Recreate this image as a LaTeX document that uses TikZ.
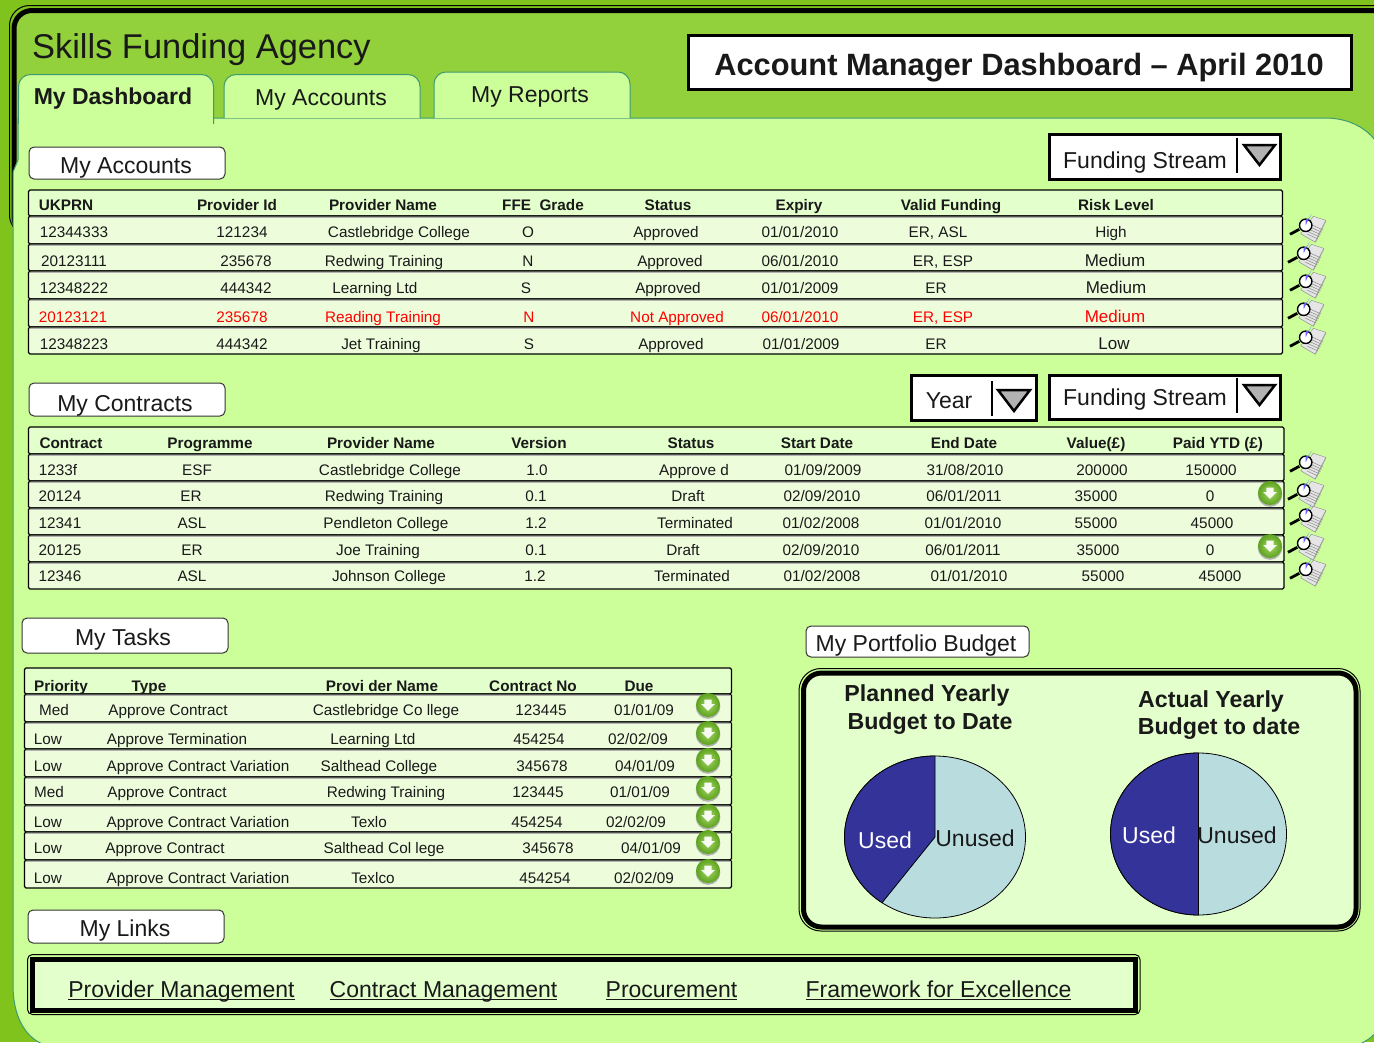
\documentclass[tikz,border=0pt]{standalone}
\usepackage{fontspec}
\setmainfont{Liberation Sans}
\definecolor{bgdark}{HTML}{7FC31C}
\definecolor{headgreen}{HTML}{92D13C}
\definecolor{panel}{HTML}{CCFF99}
\definecolor{edgeteal}{HTML}{3E9A70}
\definecolor{headrow}{HTML}{E3FFCC}
\definecolor{bodyrow}{HTML}{EDFDDC}
\definecolor{pieblue}{HTML}{333399}
\definecolor{pielight}{HTML}{B9DCDF}
\definecolor{arrowgray}{HTML}{B2B2B2}
\definecolor{redtxt}{HTML}{FF0000}
\definecolor{btnin}{HTML}{A6D765}
\definecolor{btnout}{HTML}{5CA21E}
\newcounter{tnum}
\newcommand{\fs}[1]{\fontsize{#1}{#1}\selectfont}
% x, y (baseline), text
\newcommand{\tx}[4][]{\stepcounter{tnum}\node[cell,#1] (t\arabic{tnum}) at (#2,#3) {#4};}
\newsavebox{\ulbox}
\newcommand{\ulink}[1]{\sbox{\ulbox}{#1}\rlap{\rule[-3pt]{\wd\ulbox}{1.4pt}}\usebox{\ulbox}}
\newcommand{\rowcells}[3][]{\foreach \px/\ptxt in {#3} {\tx[#1]{\px}{#2}{\ptxt}}}
\tikzset{
  cell/.style={font=\fs{15.3},anchor=base,inner sep=0pt,text=black!90},
  headcell/.style={cell,font=\fs{15.3}\bfseries},
  redcell/.style={cell,text=redtxt},
  big/.style={cell,font=\fs{23}},
  bigbold/.style={cell,font=\fs{23.2}\bfseries},
  rowbox/.style={draw=black,line width=1.2pt,fill=bodyrow,rounded corners=1.5pt},
  headbox/.style={draw=black,line width=1.2pt,fill=headrow,rounded corners=1.5pt},
  labelbox/.style={draw=black!80,line width=1pt,fill=white,rounded corners=5pt},
  dropbox/.style={draw=black,line width=3pt,fill=white},
  tabshape/.style={draw=edgeteal,line width=1pt,fill=panel},
  thinframe/.style={draw=black,line width=1pt,fill=none},
  thickframe/.style={draw=black,line width=5pt,fill=headrow},
  docicon/.pic={
    \fill[black!35] (6.9,-12) -- (19.3,-8) -- (8.6,13.6) -- (-5.7,5.3) -- cycle;
    \fill[black!10,draw=black!45,line width=.4pt] (6.3,-12.7) -- (18.7,-8.7) -- (8,13) -- (-6.3,4.7) -- cycle;
    \foreach \k in {0,1,2,3,4}{\draw[black!45,line width=.5pt] ($(5,-4)!{\k*0.25}!(0,5)$) -- ++(11,5);}
    \draw[black,line width=2.8pt] (-17,5.3) -- (-7.7,0.3);
    \fill[white,draw=black,line width=1.4pt] (-1.3,-3.7) circle (6.2);
    \fill[blue!60!white] (-1.3,-3.7) -- (-1.3,-9.3) arc[start angle=90,end angle=0,radius=5.6] -- cycle;
  },
  greenbtn/.pic={
    \fill[black!30] (0,1.5) circle (12.3);
    \shade[inner color=btnin,outer color=btnout,draw=none] (0,0) circle (12);
    \fill[white,opacity=.92] (-3.6,-5.5) -- (3.6,-5.5) -- (3.6,-1) -- (7,-1) -- (0,5.8) -- (-7,-1) -- (-3.6,-1) -- cycle;
  }
}
\usetikzlibrary{calc}
\begin{document}
\begin{tikzpicture}[x=1pt,y=-1pt]
\useasboundingbox (0,0) rectangle (1374,1042);
\fill[bgdark] (0,0) rectangle (1374,1042);
% header frame
\draw[thinframe] (9.5,235) [rounded corners=20pt] -- (9.5,5.5) -- (1400,5.5) -- (1400,235) -- cycle;
\draw[draw=black,line width=5pt,fill=headgreen,rounded corners=18pt] (14,235) -- (14,10.5) -- (1400,10.5) -- (1400,235) -- cycle;
% panel
\path[clip] (0,0) rectangle (1374,1042);
\draw[tabshape] (18,118) -- (18,160) -- (13,172) -- (13,985) .. controls (13,1022) and (30,1048) .. (62,1048) -- (1340,1048) .. controls (1365,1048) and (1385,1030) .. (1385,1010) -- (1385,170) .. controls (1385,140) and (1360,118) .. (1325,118) -- cycle;
% tabs
\draw[tabshape] (224,118) -- (224,90) [rounded corners=12pt] -- (224,74.5) -- (420,74.5) -- (420,118);
\draw[tabshape] (434,118) -- (434,88) [rounded corners=12pt] -- (434,72) -- (630,72) -- (630,118);
\fill[panel] (19,117) rectangle (213,125);
\draw[tabshape] (18.5,124) [rounded corners=12pt] -- (18.5,74.5) -- (213.5,74.5) [sharp corners] -- (213.5,124);
\fill[panel] (19.2,100) rectangle (212.8,125);
\tx[font=\fs{34.4},anchor=base west]{32}{58}{Skills Funding Agency}
\tx[font=\fs{23}\bfseries]{113}{104}{My Dashboard}
\tx[font=\fs{23}]{321}{105}{My Accounts}
\tx[font=\fs{23}]{530}{102}{My Reports}
% title
\node[draw=black,line width=3pt,fill=white,minimum width=663pt,minimum height=54pt,inner sep=0pt] (titlebox) at (1019.5,62) {};
\tx[font=\fs{30.8}\bfseries]{1019}{75}{Account Manager Dashboard – April 2010}
% section labels
\node[labelbox,minimum width=196pt,minimum height=32pt,inner sep=0pt] (lab1) at (127,163) {};
\tx[big]{126}{173}{My Accounts}
\node[labelbox,minimum width=196pt,minimum height=33pt,inner sep=0pt] (lab2) at (127,399.5) {};
\tx[big]{125}{411}{My Contracts}
\node[labelbox,minimum width=206pt,minimum height=35pt,inner sep=0pt] (lab3) at (125,635.5) {};
\tx[big]{123}{645}{My Tasks}
\node[labelbox,minimum width=223pt,minimum height=31pt,inner sep=0pt] (lab4) at (917.5,641.5) {};
\tx[big]{916}{651}{My Portfolio Budget}
\node[labelbox,minimum width=196pt,minimum height=33pt,inner sep=0pt] (lab5) at (126,926.5) {};
\tx[big]{125}{936}{My Links}
% dropdowns
\node[dropbox,minimum width=231pt,minimum height=45pt,inner sep=0pt] (dd1) at (1165,157) {};
\tx[big]{1145}{168}{Funding Stream}
\draw[black,line width=2.5pt] (1237,138) -- (1237,173);
\draw[line width=2.5pt,fill=arrowgray] (1244,145) -- (1275,145) -- (1259.5,165) -- cycle;
\node[dropbox,minimum width=231pt,minimum height=44pt,inner sep=0pt] (dd2) at (1165,397.5) {};
\tx[big]{1145}{405}{Funding Stream}
\draw[black,line width=2.5pt] (1237,378) -- (1237,413);
\draw[line width=2.5pt,fill=arrowgray] (1244,385) -- (1275,385) -- (1259.5,405) -- cycle;
\node[dropbox,minimum width=125pt,minimum height=45pt,inner sep=0pt] (dd3) at (974,397.5) {};
\tx[big]{949}{408}{Year}
\draw[black,line width=2.5pt] (992,381) -- (992,416);
\draw[line width=2.5pt,fill=arrowgray] (998,390) -- (1030,390) -- (1014,411) -- cycle;
% accounts table
\draw[headbox] (28.5,190) rectangle (1282.5,216);
\foreach \a/\b in {216/244,244/271,271/299,299/327,327/354}{
  \draw[rowbox] (28.5,\a) rectangle (1282.5,\b);
  \draw[black!30,line width=1.2pt] (29.5,\a+1.6) -- (1281.5,\a+1.6);
}
\rowcells[headcell]{210}{66/UKPRN,237/Provider Id,383/Provider Name,543/FFE\ \ Grade,668/Status,799/Expiry,951/Valid Funding,1116/Risk Level}
\rowcells{237}{74/12344333,242/121234,399/Castlebridge College,528/O,666/Approved,800/01\slash 01\slash 2010,938/{ER, ASL},1111/High}
\rowcells{266}{74/20123111,246/235678,384/Redwing Training,528/N,670/Approved,800/06\slash 01\slash 2010,943/{ER, ESP}}
\rowcells{293}{74/12348222,246/444342,375/Learning Ltd,526/S,668/Approved,800/01\slash 01\slash 2009,936/ER}
\rowcells[redcell]{322}{73/20123121,242/235678,383/Reading Training,529/N,677/Not Approved,800/06\slash 01\slash 2010,943/{ER, ESP}}
\rowcells{349}{74/12348223,242/444342,381/Jet Training,529/S,671/Approved,801/01\slash 01\slash 2009,936/ER}
\tx[font=\fs{17}]{1115}{266}{Medium}
\tx[font=\fs{17}]{1116}{293}{Medium}
\tx[redcell,font=\fs{17}]{1115}{322}{Medium}
\tx[font=\fs{17}]{1114}{349}{Low}
% contracts table
\draw[headbox] (28.5,427) rectangle (1284,454);
\foreach \a/\b in {454/481,481/508,508/535,535/562,562/589}{
  \draw[rowbox] (28.5,\a) rectangle (1284,\b);
  \draw[black!30,line width=1.2pt] (29.5,\a+1.6) -- (1283,\a+1.6);
}
\rowcells[headcell]{448}{71/Contract,210/Programme,381/Provider Name,539/Version,691/Status,817/Start Date,964/End Date,1096/Value(£),1218/Paid YTD (£)}
\rowcells{475}{58/1233f,197/ESF,390/Castlebridge College,537/1.0,694/Approve d,823/01\slash 09\slash 2009,965/31\slash 08\slash 2010,1102/200000,1211/150000}
\rowcells{501}{60/20124,191/ER,384/Redwing Training,536/0.1,688/Draft,822/02\slash 09\slash 2010,964/06\slash 01\slash 2011,1096/35000,1210/0}
\rowcells{528}{60/12341,192/ASL,386/Pendleton College,536/1.2,695/Terminated,821/01\slash 02\slash 2008,963/01\slash 01\slash 2010,1096/55000,1212/45000}
\rowcells{555}{60/20125,192/ER,378/Joe Training,536/0.1,683/Draft,821/02\slash 09\slash 2010,963/06\slash 01\slash 2011,1098/35000,1210/0}
\rowcells{581}{60/12346,192/ASL,389/Johnson College,535/1.2,692/Terminated,822/01\slash 02\slash 2008,969/01\slash 01\slash 2010,1103/55000,1220/45000}
% tasks table
\draw[headbox] (24.5,668) rectangle (731.5,694);
\foreach \a/\b in {694/722,722/749,749/777,777/805,805/832,832/860,860/888}{
  \draw[rowbox] (24.5,\a) rectangle (731.5,\b);
  \draw[black!30,line width=1.2pt] (25.5,\a+1.6) -- (730.5,\a+1.6);
}
\rowcells[headcell]{691}{61/Priority,149/Type,382/Provi der Name,533/Contract No,639/Due}
\rowcells{715}{54/Med,168/Approve Contract,386/Castlebridge Co llege,541/123445,644/01\slash 01\slash 09}
\rowcells{744}{48/Low,177/Approve Termination,373/Learning Ltd,539/454254,638/02\slash 02\slash 09}
\rowcells{771}{48/Low,198/Approve Contract Variation,379/Salthead College,542/345678,645/04\slash 01\slash 09}
\rowcells{797}{49/Med,167/Approve Contract,386/Redwing Training,538/123445,640/01\slash 01\slash 09}
\rowcells{827}{48/Low,198/Approve Contract Variation,369/Texlo,537/454254,636/02\slash 02\slash 09}
\rowcells{853}{48/Low,165/Approve Contract,384/Salthead Col lege,548/345678,651/04\slash 01\slash 09}
\rowcells{883}{48/Low,198/Approve Contract Variation,373/Texlco,545/454254,644/02\slash 02\slash 09}
% icons
\foreach \p/\q in {1307/229,1305/257,1307/285,1305/313,1307/341,1307/466,1305/494,1307/519,1305/547,1307/573}{
  \pic at (\p,\q) {docicon};
}
\foreach \p/\q in {1270/493,1270/546,708/705,708/733,708/760,708/788,708/816,708/842,708/871}{
  \pic at (\p,\q) {greenbtn};
}
% budget box
\draw[thinframe,rounded corners=22pt] (799,668.5) rectangle (1360,931);
\draw[thickframe,rounded corners=18pt] (803.5,673) rectangle (1356,927);
\tx[bigbold]{927}{701}{Planned Yearly}
\tx[bigbold]{930}{729}{Budget to Date}
\tx[bigbold]{1211}{707}{Actual Yearly}
\tx[bigbold]{1219}{734}{Budget to date}
% pies
\draw[black,line width=.8pt,fill=pielight] (935,837) ellipse [x radius=90.5,y radius=81];
\draw[black,line width=.8pt,fill=pieblue] (935,837) -- plot[domain=-234.2:-90,samples=80,smooth] ({935+90.5*cos(\x)},{837+81*sin(\x)}) -- cycle;
\draw[black,line width=.8pt,fill=pielight] (1198.5,834) ellipse [x radius=88,y radius=81];
\draw[black,line width=.8pt,fill=pieblue] (1198.5,753) -- plot[domain=-270:-90,samples=80,smooth] ({1198.5+88*cos(\x)},{834+81*sin(\x)}) -- cycle;
\tx[big,text=white]{885}{848}{Used}
\tx[big]{975}{846}{Unused}
\tx[big,text=white]{1149}{843}{Used}
\tx[big]{1237}{843}{Unused}
% links
\draw[thinframe,rounded corners=5pt] (27.5,954.5) rectangle (1140,1014.5);
\draw[thickframe,fill=headrow] (32.5,959.5) rectangle (1135,1010);
\tx[big]{181.5}{997}{\ulink{Provider Management}}
\tx[big]{443.5}{997}{\ulink{Contract Management}}
\tx[big]{671.5}{997}{\ulink{Procurement}}
\tx[big]{938.5}{997}{\ulink{Framework for Excellence}}
\end{tikzpicture}
\end{document}
